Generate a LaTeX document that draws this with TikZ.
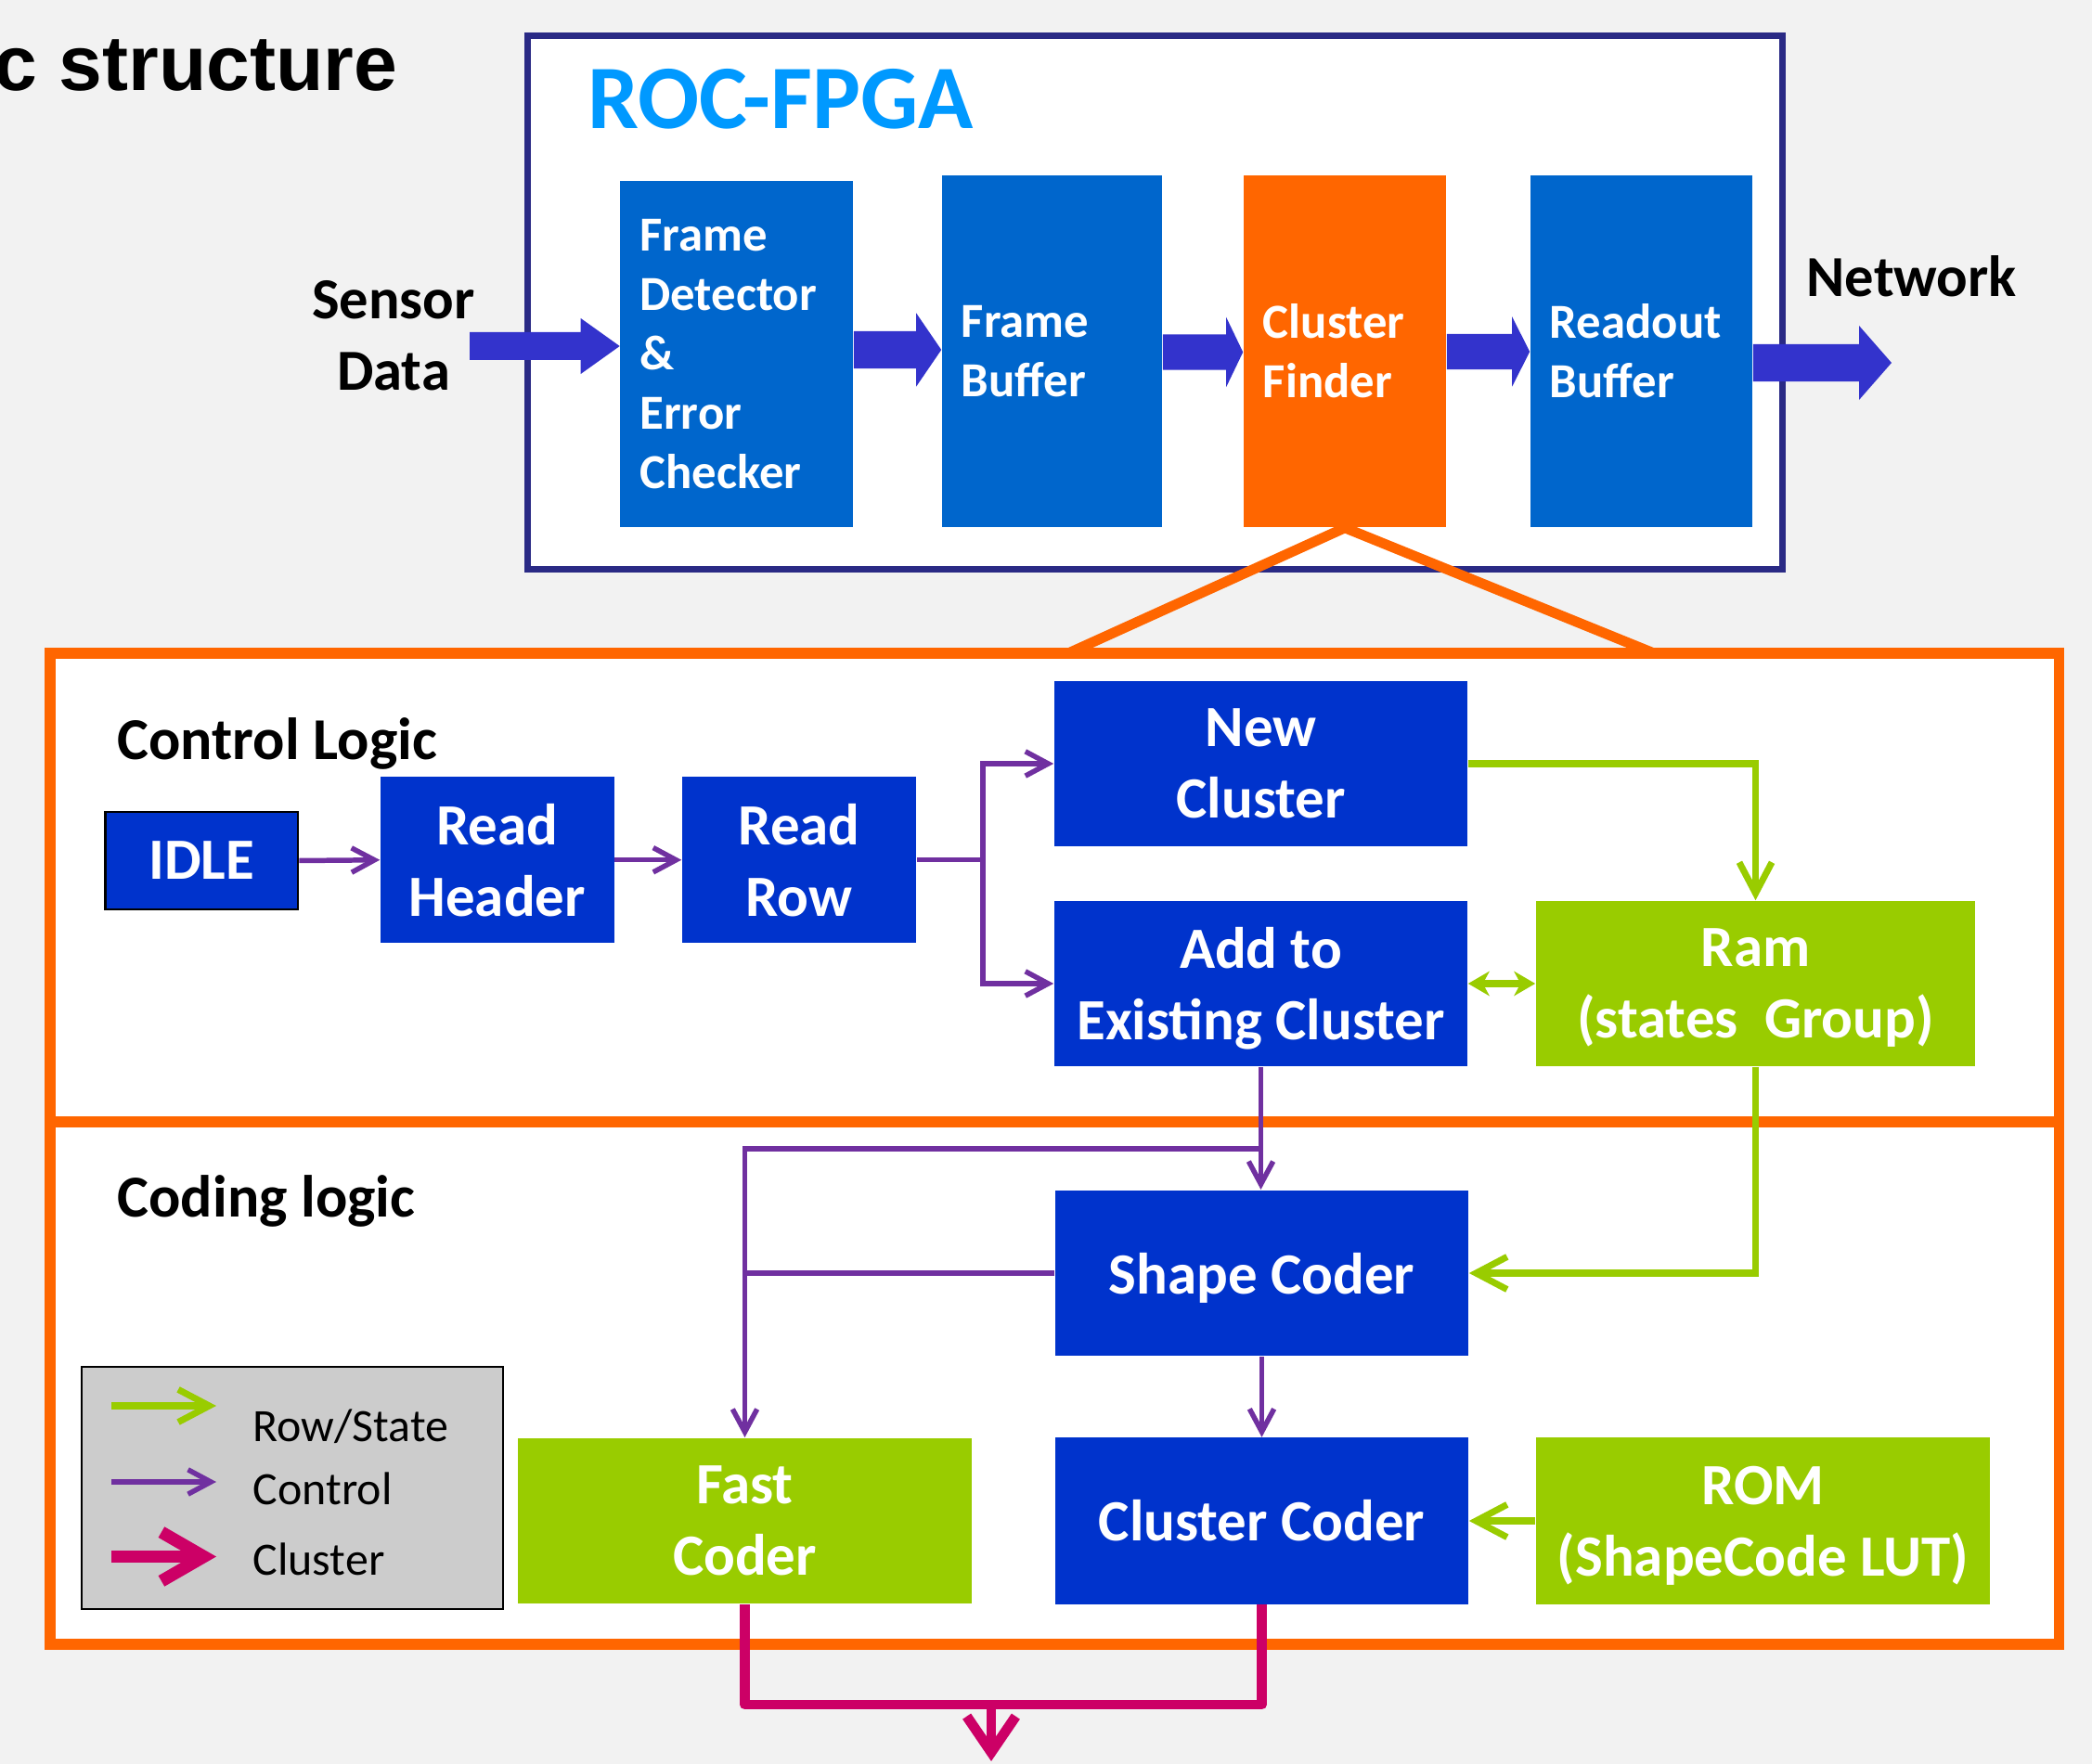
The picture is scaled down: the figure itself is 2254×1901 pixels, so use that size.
\documentclass[tikz,border=0pt]{standalone}
\usepackage{fontspec}
\setmainfont{Carlito}
\newfontfamily\arialfont{Liberation Sans}
\usetikzlibrary{arrows.meta,calc}

\definecolor{bgc}{HTML}{F2F2F2}
\definecolor{navy}{HTML}{2A2A85}
\definecolor{rocblue}{HTML}{0066CC}
\definecolor{ctlblue}{HTML}{0033CC}
\definecolor{corange}{HTML}{FF6600}
\definecolor{barrowc}{HTML}{3333CC}
\definecolor{sky}{HTML}{0099FF}
\definecolor{cgreen}{HTML}{99CC00}
\definecolor{cpurple}{HTML}{7030A0}
\definecolor{cpink}{HTML}{CC0066}
\definecolor{lgray}{HTML}{CCCCCC}

\newcommand\fsA{\fontsize{15}{18.2}\selectfont}
\newcommand\fsB{\fontsize{17.9}{21.9}\selectfont}
\newcommand\fsC{\fontsize{17.8}{21.8}\selectfont}
\newcommand\fsD{\fontsize{18.2}{21.9}\selectfont}
\newcommand\fsE{\fontsize{27.8}{33}\selectfont}
\newcommand\fsF{\fontsize{14.2}{17}\selectfont}
\newcommand\fsG{\fontsize{23.9}{28}\selectfont}

% block arrow: #1 start, #2 tip, #3 shaft half (px), #4 head half (px), #5 head length (px)
\newcommand\blockarrow[5]{%
  \fill[barrowc] let \p1=(#1), \p2=(#2) in
    (\x1,{\y2+#3*0.28453pt}) -- ({\x2-#5*0.28453pt},{\y2+#3*0.28453pt}) --
    ({\x2-#5*0.28453pt},{\y2+#4*0.28453pt}) -- (\x2,\y2) --
    ({\x2-#5*0.28453pt},{\y2-#4*0.28453pt}) -- ({\x2-#5*0.28453pt},{\y2-#3*0.28453pt}) --
    (\x1,{\y2-#3*0.28453pt}) -- cycle;}

\begin{document}
\begin{tikzpicture}[x=0.01cm,y=-0.01cm,
  rocbox/.style={fill=rocblue, text=white, font=\fsA\bfseries, align=left,
     inner xsep=0.21cm, inner ysep=0pt},
  ctlbox/.style={fill=ctlblue, text=white, font=\fsB\bfseries, align=center, inner sep=0pt},
  grnbox/.style={fill=cgreen, text=white, font=\fsB\bfseries, align=center, inner sep=0pt},
  lbl/.style={inner sep=0pt, text=black},
  ctrl/.style={draw=cpurple, line width=1.56pt, -{Straight Barb[length=7pt,width=7.5pt]}},
  ctrlline/.style={draw=cpurple, line width=1.56pt},
  grn/.style={draw=cgreen, line width=2pt, -{Straight Barb[length=9.5pt,width=10pt]}},
  clus/.style={draw=cpink, line width=3.1pt, line join=round}
]
\useasboundingbox (0,0) rectangle (2254,1901);
\fill[bgc] (0,0) rectangle (2254,1901);

% title
\node[lbl, font=\arialfont\fsG\bfseries, anchor=base east] (hdr) at (429,98) {c structure};

% ROC-FPGA
\node[draw=navy, line width=2pt, fill=white, minimum width=13.51cm, minimum height=5.74cm, inner sep=0pt] (roc) at (1244.5,326) {};
\node[lbl, font=\fsE\bfseries, text=sky, anchor=base west] (roct) at (633,139) {ROC-FPGA};

\node[rocbox, text width=2.085cm, minimum height=3.73cm] (fd) at (793.75,381.5) {Frame\\Detector\\\&\\Error\\Checker};
\node[rocbox, text width=1.95cm, minimum height=3.79cm] (fb) at (1133.5,378.5) {Frame\\Buffer};
\node[rocbox, fill=corange, text width=1.76cm, minimum height=3.79cm] (cf) at (1449,378.5) {Cluster\\Finder};
\node[rocbox, text width=1.97cm, minimum height=3.79cm] (rb) at (1768.5,378.5) {Readout\\Buffer};

\node[lbl, font=\fsC\bfseries, align=center] (sensor) at (424,362) {Sensor\\Data};
\node[lbl, font=\fsC\bfseries, anchor=base west] (net) at (1946,320) {Network};

\coordinate (sin) at (506,373);
\coordinate (nout) at (2038,391);
\blockarrow{sin}{fd.west |- sin}{15}{30}{42}
\blockarrow{fd.east |- 0,377}{fb.west |- 0,377}{20}{39.5}{27}
\blockarrow{fb.east |- 0,379.5}{cf.west |- 0,379.5}{19}{37.5}{18}
\blockarrow{cf.east |- 0,379}{rb.west |- 0,379}{19}{37.5}{19}
\blockarrow{rb.east |- nout}{nout}{20}{40}{35}

% orange frames
\node[draw=corange, line width=3.27pt, fill=white, minimum width=21.635cm, minimum height=5.63cm, inner sep=0pt] (cod) at (1136.25,1490.5) {};
\node[draw=corange, line width=3.27pt, fill=white, minimum width=21.635cm, minimum height=5.05cm, inner sep=0pt] (ctl) at (1136.25,956.5) {};
\coordinate (vl) at (1151,704);
\coordinate (vr) at (1782,704);
\draw[corange, line width=3.1pt] (vl) -- (cf.south) -- (vr);

\node[lbl, font=\fsD\bfseries, anchor=base west] (clt) at (126,819) {Control Logic};
\node[lbl, font=\fsD\bfseries, anchor=base west] (cgt) at (126,1311) {Coding logic};

% control boxes
\node[ctlbox, draw=black, line width=0.8pt, minimum width=2.074cm, minimum height=1.05cm] (idle) at (217.3,927.5) {IDLE};
\node[ctlbox, minimum width=2.515cm, minimum height=1.785cm] (rh) at (535.75,926.75) {Read\\Header};
\node[ctlbox, minimum width=2.52cm, minimum height=1.785cm] (rr) at (861,926.75) {Read\\Row};
\node[ctlbox, minimum width=4.45cm, minimum height=1.78cm] (nc) at (1358.5,823) {New\\Cluster};
\node[ctlbox, text depth=0pt, minimum width=4.45cm, minimum height=1.78cm] (ae) at (1358.5,1060) {Add to\\Existing Cluster};
\node[grnbox, text depth=0pt, minimum width=4.73cm, minimum height=1.78cm] (ram) at (1891.5,1060) {Ram\\(states~~Group)};

% coding boxes
\node[ctlbox, text depth=0pt, minimum width=4.45cm, minimum height=1.785cm] (sc) at (1359.5,1372) {Shape Coder};
\node[ctlbox, minimum width=4.45cm, minimum height=1.79cm] (cc) at (1359.5,1639) {Cluster Coder};
\node[grnbox, text depth=0pt, minimum width=4.89cm, minimum height=1.79cm] (rom) at (1899.5,1639) {ROM\\(ShapeCode LUT)};
\node[grnbox, minimum width=4.89cm, minimum height=1.785cm] (fc) at (802.5,1639) {Fast\\Coder};

% legend
\node[draw=black, fill=lgray, line width=0.6pt, minimum width=4.535cm, minimum height=2.61cm, inner sep=0pt] (leg) at (314.75,1603.5) {};
\coordinate (lg1a) at (120,1515); \coordinate (lg1b) at (233,1515);
\coordinate (lg2a) at (120,1597); \coordinate (lg2b) at (233,1597);
\coordinate (lg3a) at (120,1677.5); \coordinate (lg3b) at (233,1677.5);
\draw[grn] (lg1a) -- (lg1b);
\draw[ctrl] (lg2a) -- (lg2b);
\draw[clus, line width=3.8pt, -{Straight Barb[length=13pt,width=15pt]}] (lg3a) -- (lg3b);
\node[lbl, font=\fsF, anchor=base west] (lt1) at (272,1553) {Row/State};
\node[lbl, font=\fsF, anchor=base west] (lt2) at (272,1621.6) {Control};
\node[lbl, font=\fsF, anchor=base west] (lt3) at (272,1697.6) {Cluster};

% control connectors
\draw[ctrl] (idle.east) -- (rh.west);
\draw[ctrl] (rh.east) -- (rr.west);
\coordinate (jn) at (1059,926.75);
\draw[ctrlline] (rr.east) -- (jn);
\draw[ctrl] (jn) |- (nc.west);
\draw[ctrl] (jn) |- (ae.west);
\draw[grn] (nc.east) -| (ram.north);
\draw[draw=cgreen, line width=2pt, {Stealth[length=6.5pt,width=7.5pt,inset=2pt]}-{Stealth[length=6.5pt,width=7.5pt,inset=2pt]}] (ae.east) -- (ram.west);
\draw[grn] (ram.south) |- (sc.east);
\draw[grn] (rom.west) -- (cc.east);
\draw[ctrl] (ae.south) -- (ae.south |- sc.north);
\coordinate (br) at (ae.south |- 0,1238);
\draw[ctrl] (br) -| (fc.north);
\draw[ctrlline] (sc.west) -- (sc.west -| fc.north);
\draw[ctrl] (sc.south) -- (sc.south |- cc.north);

% cluster output
\coordinate (pj) at (1068,1837);
\coordinate (out) at (1068,1898);
\draw[clus] (fc.south) |- (pj) -| (cc.south);
\draw[clus, -{Straight Barb[length=11pt,width=15pt]}] (pj) -- (out);
\end{tikzpicture}
\end{document}
